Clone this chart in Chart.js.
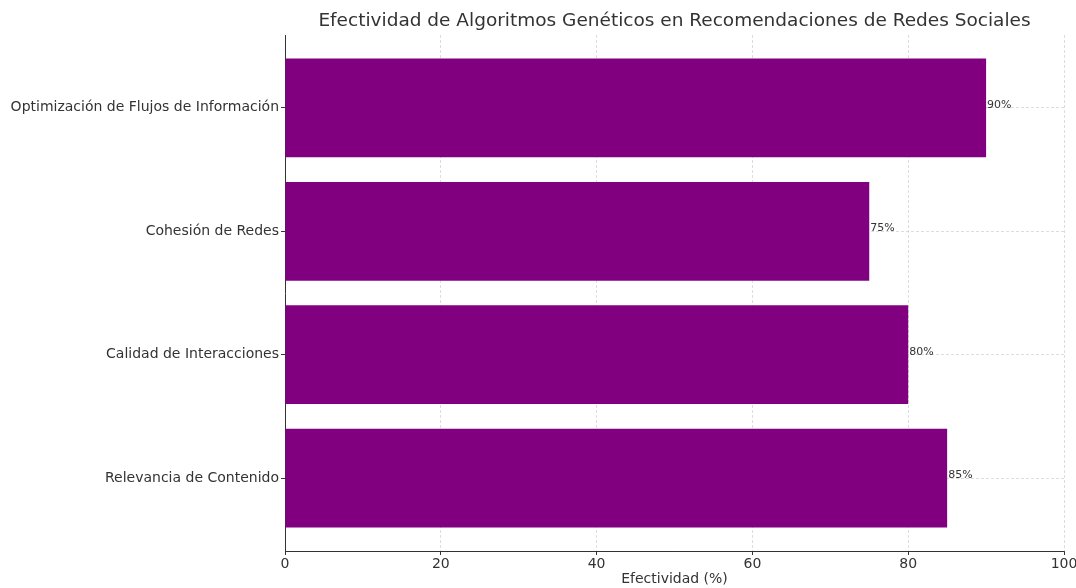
<!DOCTYPE html>
<html lang="es">
<head>
<meta charset="utf-8">
<title>Efectividad de Algoritmos Genéticos</title>
<script src="https://cdn.jsdelivr.net/npm/chart.js@4.4.1/dist/chart.umd.min.js"></script>
<style>
  html, body { margin: 0; padding: 0; background: #fff; }
  #wrap { width: 1076px; height: 588px; position: relative; }
</style>
</head>
<body>
<div id="wrap"><canvas id="chart"></canvas></div>
<script>
// Categories listed from the bottom bar up
const categories = [
  'Relevancia de Contenido',
  'Calidad de Interacciones',
  'Cohesión de Redes',
  'Optimización de Flujos de Información'
];
const effectiveness = [85, 80, 75, 90];
const xTicks = [0, 20, 40, 60, 80, 100];

const chartTitle = 'Efectividad de Algoritmos Genéticos en Recomendaciones de Redes Sociales';
const xTitle = 'Efectividad (%)';

const FONT = "'DejaVu Sans', sans-serif";
const TEXT = '#333333';

// Title centred over the plotting area and value labels at the bar ends
const annotate = {
  id: 'annotate',
  afterDraw(chart) {
    const { ctx, chartArea } = chart;
    ctx.save();
    ctx.fillStyle = TEXT;
    ctx.font = '18.5px ' + FONT;
    ctx.textAlign = 'center';
    ctx.textBaseline = 'middle';
    ctx.fillText(chartTitle, (chartArea.left + chartArea.right) / 2, 21);

    ctx.font = '11px ' + FONT;
    ctx.textAlign = 'left';
    const meta = chart.getDatasetMeta(0);
    meta.data.forEach((bar, i) => {
      ctx.fillText(effectiveness[i] + '%', bar.x + 1, bar.y - 3);
    });
    ctx.restore();
  }
};

const gridStyle = {
  offset: false,
  color: 'rgba(176,176,176,0.55)',
  lineWidth: 0.8,
  tickColor: TEXT,
  tickWidth: 1,
  tickLength: 4,
  tickBorderDash: []
};

new Chart(document.getElementById('chart'), {
  type: 'bar',
  data: {
    datasets: [{
      data: effectiveness.map((v, i) => ({ x: v, y: i })),
      backgroundColor: '#800080',
      borderWidth: 0,
      categoryPercentage: 1.0,
      barPercentage: 0.8
    }]
  },
  options: {
    indexAxis: 'y',
    responsive: true,
    maintainAspectRatio: false,
    animation: false,
    layout: { padding: { top: 35, right: 12, bottom: 0, left: 0 } },
    plugins: {
      legend: { display: false },
      title: { display: false },
      tooltip: { enabled: false }
    },
    scales: {
      x: {
        type: 'linear',
        min: 0,
        max: 100,
        offset: false,
        z: 1,
        afterBuildTicks(scale) { scale.ticks = xTicks.map(v => ({ value: v })); },
        afterFit(scale) { scale.height = 37; scale.paddingRight = 0; scale.paddingLeft = 0; },
        ticks: { color: TEXT, font: { family: FONT, size: 14 }, padding: 1, maxRotation: 0 },
        grid: gridStyle,
        border: { color: TEXT, width: 1, dash: [3, 2] },
        title: {
          display: true,
          text: xTitle,
          color: TEXT,
          font: { family: FONT, size: 14 },
          padding: { top: 0, bottom: 0 }
        }
      },
      y: {
        type: 'linear',
        min: -0.59,
        max: 3.59,
        offset: false,
        z: 1,
        afterBuildTicks(scale) { scale.ticks = categories.map((c, i) => ({ value: i })); },
        afterFit(scale) { scale.width = 285; },
        ticks: {
          color: TEXT,
          font: { family: FONT, size: 14 },
          padding: 2,
          callback: (v) => categories[v]
        },
        grid: gridStyle,
        border: { color: TEXT, width: 1, dash: [3, 2] }
      }
    }
  },
  plugins: [annotate]
});
</script>
</body>
</html>
